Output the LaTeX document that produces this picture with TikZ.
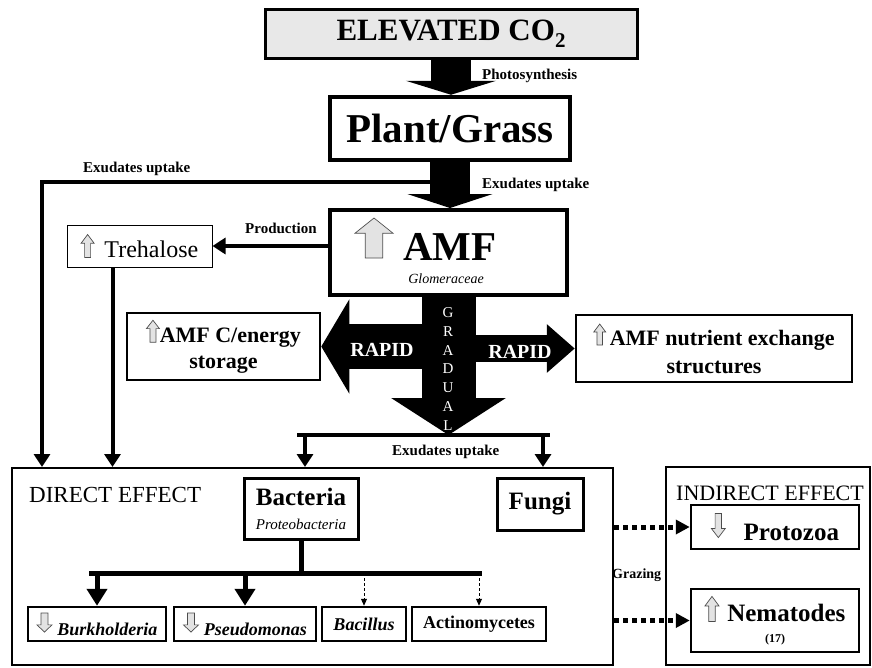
\documentclass[tikz,border=0pt]{standalone}
\usepackage{fontspec}
\setmainfont{Liberation Serif}
\usetikzlibrary{arrows.meta,calc}

\newcommand{\fsize}[2]{\fontsize{#1}{#2}\selectfont}
% hollow grey up / down arrows used inside the texts
\newcommand{\upicon}[2]{\tikz[baseline=0pt,x=#1,y=#2]\draw[line width=.7pt,draw=gray!60!black,fill=gray!22]
  (.27,0) -- (.27,.62) -- (0,.62) -- (.5,1) -- (1,.62) -- (.73,.62) -- (.73,0) -- cycle;}
\newcommand{\downicon}[2]{\tikz[baseline=-3pt,x=#1,y=#2]\draw[line width=.7pt,draw=gray!60!black,fill=gray!22]
  (.27,1) -- (.27,.38) -- (0,.38) -- (.5,0) -- (1,.38) -- (.73,.38) -- (.73,1) -- cycle;}

\begin{document}
\begin{tikzpicture}[x=1pt,y=-1pt,
    mainbox/.style={draw, line width=#1, inner sep=0pt, align=center},
    lbl/.style={font=\fsize{15}{17}\bfseries, inner sep=0pt, anchor=west},
    whitetxt/.style={text=white, inner sep=0pt, align=center},
    feed/.style={line width=4pt, -{Triangle[width=16pt,length=13pt]}},
    blockarrow/.style n args={3}{line width=#1, -{Triangle[width=#2,length=#3]}},
    branch/.style={line width=5pt, -{Triangle[width=20pt,length=17pt]}},
    weak/.style={line width=1pt, dash pattern=on 3pt off 2pt, -{Triangle[width=6pt,length=7pt]}},
    grazearrow/.style={line width=5pt, dash pattern=on 5pt off 4pt, -{Triangle[width=14pt,length=14pt]}}]
    \useasboundingbox (0,0) rectangle (872,667);

    % Top chain
    \node[mainbox=3pt, fill=gray!18, minimum width=372, minimum height=49] (co2) at (451,33.5)
        {\fsize{31}{32}\bfseries ELEVATED CO\raisebox{-7pt}{\fsize{21}{21}2}};
    \node[mainbox=4.5pt, minimum width=240, minimum height=63] (plant) at (450,128.5)
        {\fsize{41}{44}\bfseries Plant/Grass};
    \node[mainbox=4pt, minimum width=237, minimum height=85] (amf) at (448.5,252.5) {};
    \node[inner sep=0pt] (amficon) at (374,238) {\upicon{38pt}{40pt}};
    \node[inner sep=0pt, anchor=base west, font=\fsize{41}{44}\bfseries] (amftxt) at (403,260) {AMF};
    \node[inner sep=0pt, font=\fsize{14}{16}\itshape] (glom) at (446,279) {Glomeraceae};

    \node[lbl] (photo) at (482,76) {Photosynthesis};
    \node[lbl] (exright) at (482,185) {Exudates uptake};
    \node[lbl] (exleft) at (83,169) {Exudates uptake};
    \node[lbl] (prod) at (245,228) {Production};

    % Trehalose and AMF outputs
    \node[mainbox=1pt, minimum width=145, minimum height=42, font=\fsize{24}{26}] (treh) at (139.5,246)
        {\upicon{13pt}{23pt}\hspace{10pt}Trehalose};
    \node[mainbox=2.5pt, minimum width=193, minimum height=67, font=\fsize{22}{26}\bfseries] (energy) at (223.5,346.5)
        {\upicon{13pt}{22pt}AMF C/energy\\storage};
    \node[mainbox=2.5pt, minimum width=276, minimum height=67, font=\fsize{22}{28}\bfseries] (nutrient) at (714,348.5)
        {\upicon{12pt}{21pt}\,AMF nutrient exchange\\structures};

    % Soil boxes
    \node[mainbox=2pt, minimum width=601, minimum height=197] (direct) at (312.5,566.5) {};
    \node[inner sep=0pt, anchor=west, font=\fsize{23}{24}] (directlbl) at (29,495) {DIRECT EFFECT};
    \node[mainbox=2pt, minimum width=204, minimum height=198] (indirect) at (768,566) {};
    \node[inner sep=0pt, anchor=west, font=\fsize{22}{24}] (indirectlbl) at (676,493) {INDIRECT EFFECT};

    \node[mainbox=3pt, minimum width=114, minimum height=61, font=\fsize{25}{24}\bfseries] (bacteria) at (301,508.5)
        {Bacteria\\{\fsize{15}{16}\mdseries\itshape Proteobacteria}};
    \node[mainbox=3pt, minimum width=86, minimum height=52, font=\fsize{25}{27}\bfseries] (fungi) at (540,504) {Fungi};

    \node[mainbox=2.5pt, minimum width=138, minimum height=34, font=\fsize{18}{20}\bfseries\itshape] (burk) at (97,624)
        {\downicon{15pt}{19pt}\hspace{5pt}Burkholderia};
    \node[mainbox=2.5pt, minimum width=142, minimum height=34, font=\fsize{18}{20}\bfseries\itshape] (pseudo) at (245,624)
        {\downicon{15pt}{19pt}\hspace{5pt}Pseudomonas};
    \node[mainbox=2.5pt, minimum width=84, minimum height=34, font=\fsize{18}{20}\bfseries\itshape] (bacillus) at (364,624) {Bacillus};
    \node[mainbox=2.5pt, minimum width=134, minimum height=34, font=\fsize{18}{20}\bfseries] (actino) at (479,624) {Actinomycetes};

    \node[mainbox=2.5pt, minimum width=168, minimum height=44, font=\fsize{25}{27}\bfseries] (protozoa) at (775,527)
        {\downicon{14pt}{24pt}\hspace{18pt}Protozoa};
    \node[mainbox=2.5pt, minimum width=168, minimum height=63, font=\fsize{25}{21}\bfseries] (nematodes) at (775,620.5)
        {\upicon{14pt}{25pt}\hspace{8pt}Nematodes\\{\fsize{12}{12}(17)}};
    \node[lbl, font=\fsize{14}{16}\bfseries] (grazing) at (612,575) {Grazing};

    % Big arrows
    \draw[blockarrow={40pt}{90pt}{14pt}] (co2.south) -- (co2.south |- plant.north);
    \draw[blockarrow={40pt}{85pt}{14pt}] (plant.south) -- (plant.south |- amf.north);
    \coordinate (splitL) at (297,435);
    \coordinate (splitR) at (550,435);
    \draw[blockarrow={54pt}{113pt}{37pt}] (amf.south) -- (amf.south |- splitL);
    \draw[blockarrow={45pt}{93pt}{28pt}] (amf.south |- energy.east) -- (energy.east);
    \draw[blockarrow={27pt}{47pt}{28pt}] (amf.south |- nutrient.west) -- (nutrient.west);
    \node[whitetxt, font=\fsize{20}{20}\bfseries] (rapidL) at (382,350) {RAPID};
    \node[whitetxt, font=\fsize{20}{20}\bfseries] (rapidR) at (520,352) {RAPID};
    \node[whitetxt, font=\fsize{15}{18.7}] (gradual) at (448,369) {G\\R\\A\\D\\U\\A\\L};

    % Thin feeds
    \coordinate (uptake) at (448,182);
    \draw[feed] (uptake) -| ([xshift=31pt]direct.north west);
    \draw[feed] ([xshift=-27pt]treh.south) -- ([xshift=-27pt]treh.south |- direct.north);
    \draw[feed] (amf.west |- treh.east) -- (treh.east);
    \draw[line width=4pt] (splitL) -- (splitR);
    \draw[feed] ([xshift=4pt]bacteria.north |- splitL) -- ([xshift=4pt]bacteria.north |- direct.north);
    \draw[feed] ([xshift=3pt]fungi.north |- splitL) -- ([xshift=3pt]fungi.north |- direct.north);
    \node[lbl] (exbottom) at (392,452) {Exudates uptake};

    % Bacteria groups
    \coordinate (barL) at (89,573);
    \coordinate (barR) at (482,573);
    \draw[line width=5pt] (barL) -- (barR);
    \draw[line width=5pt] (bacteria.south) -- (bacteria.south |- barL);
    \draw[branch] (burk.north |- barL) -- (burk.north);
    \draw[branch] (pseudo.north |- barL) -- (pseudo.north);
    \draw[weak] (bacillus.north |- barL) -- (bacillus.north);
    \draw[weak] (actino.north |- barL) -- (actino.north);

    % Grazing
    \draw[grazearrow] (direct.east |- protozoa.west) -- (protozoa.west);
    \draw[grazearrow] (direct.east |- nematodes.west) -- (nematodes.west);
\end{tikzpicture}
\end{document}
